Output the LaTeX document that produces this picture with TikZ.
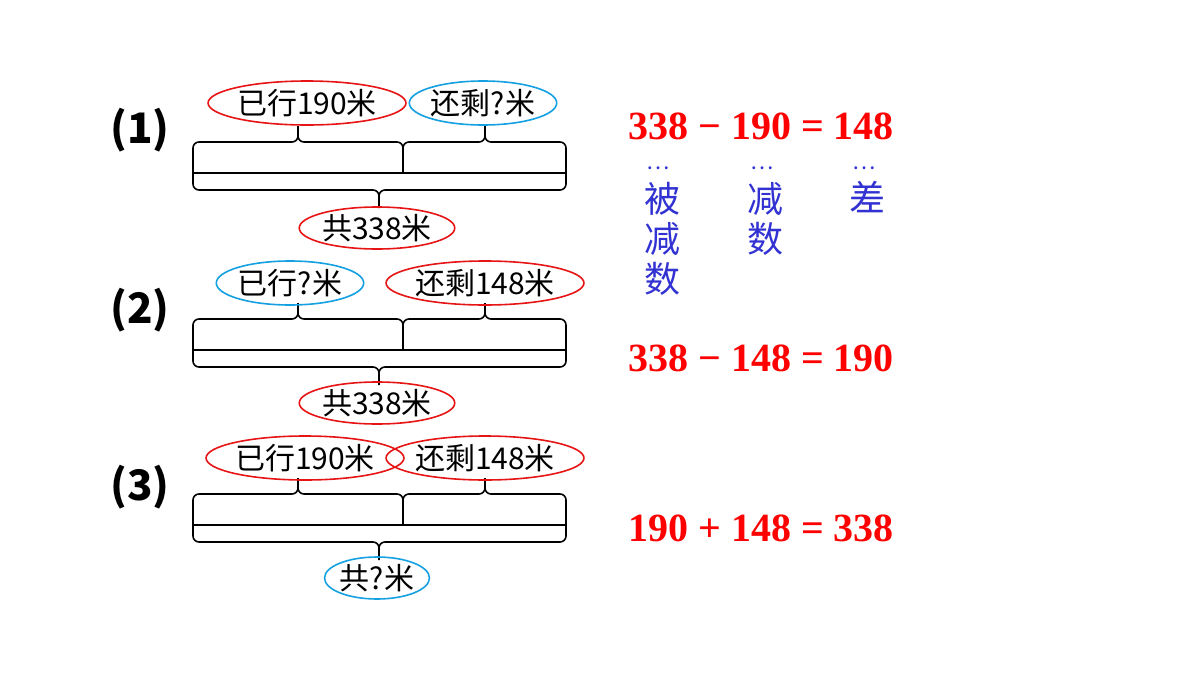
\documentclass[tikz,border=0pt]{standalone}
\usepackage{fontspec}
\setmainfont{Liberation Sans}
\newfontfamily\cjk{Noto Sans CJK SC}
\newfontfamily\tnr{Liberation Serif}
\usetikzlibrary{shapes.geometric}
\definecolor{ered}{RGB}{230,20,20}
\definecolor{eblue}{RGB}{20,160,225}
\definecolor{lblue}{RGB}{50,50,210}
\tikzset{
 x=0.5pt,y=-0.5pt,
 lab/.style={ellipse,draw,thick,inner sep=0pt,font=\cjk\fontsize{15}{15}\selectfont},
 rl/.style={lab,ered},
 bl/.style={lab,eblue},
 br/.style={line width=0.8pt,black},
 num/.style={font=\cjk\bfseries\fontsize{21}{21}\selectfont},
 eq/.style={font=\tnr\bfseries\fontsize{20}{20}\selectfont,text=red},
 bc/.style={font=\cjk\fontsize{18}{18}\selectfont,text=lblue,inner sep=0pt},
}
\begin{document}
\begin{tikzpicture}
\useasboundingbox (0,0) rectangle (1200,675);
\foreach \dy in {0,177,352}{
\begin{scope}[shift={(0,\dy)}]
 \draw[br] (193,173) -- (566,173);
 \draw[br] (193,173) -- (193,148) to[out=90,in=180] (199,142) -- (292,142) to[out=0,in=270] (298,136) -- (298,126);
 \draw[br] (298,136) to[out=270,in=180] (304,142) -- (397,142) to[out=0,in=90] (403,148) -- (403,173);
 \draw[br] (403,148) to[out=90,in=180] (409,142) -- (479,142) to[out=0,in=270] (485,136) -- (485,126);
 \draw[br] (485,136) to[out=270,in=180] (491,142) -- (560,142) to[out=0,in=90] (566,148) -- (566,173);
 \draw[br] (193,173) -- (193,184) to[out=270,in=180] (199,190) -- (373,190) to[out=0,in=90] (379,196) -- (379,208);
 \draw[br] (379,196) to[out=90,in=180] (385,190) -- (560,190) to[out=0,in=270] (566,184) -- (566,173);
\end{scope}}
\node[num] (n1) at (140,130) {(1)};
\node[num] (n2) at (140,310) {(2)};
\node[num] (n3) at (140,487) {(3)};
\node[rl,minimum width=72pt,minimum height=22pt] (a1) at (307,103) {\textcolor{black}{已行190米}};
\node[bl,minimum width=68pt,minimum height=22pt] (b1) at (483,103) {\textcolor{black}{还剩?米}};
\node[rl,minimum width=61pt,minimum height=21pt] (c1) at (377,228) {\textcolor{black}{共338米}};
\node[bl,minimum width=68pt,minimum height=22pt] (a2) at (290,283) {\textcolor{black}{已行?米}};
\node[rl,minimum width=72pt,minimum height=22pt] (b2) at (485,283) {\textcolor{black}{还剩148米}};
\node[rl,minimum width=61pt,minimum height=21pt] (c2) at (377,403) {\textcolor{black}{共338米}};
\node[rl,minimum width=75pt,minimum height=22pt] (a3) at (305,458) {\textcolor{black}{已行190米}};
\node[rl,minimum width=72pt,minimum height=22pt] (b3) at (485,458) {\textcolor{black}{还剩148米}};
\node[bl,minimum width=46pt,minimum height=21pt] (c3) at (377,578) {\textcolor{black}{共?米}};
\node[eq] (e1) at (761,126) {338 − 190 = 148};
\node[eq] (e2) at (761,358) {338 − 148 = 190};
\node[eq] (e3) at (761,528) {190 + 148 = 338};
\foreach \x in {658,762,864}{\node[text=lblue,font=\cjk\fontsize{11}{11}\selectfont] at (\x,168) {…};}
\node[bc] (w1) at (662,199) {被};
\node[bc] (w2) at (662,239) {减};
\node[bc] (w3) at (662,279) {数};
\node[bc] (w4) at (765,199) {减};
\node[bc] (w5) at (765,239) {数};
\node[bc] (w6) at (867,197) {差};
\end{tikzpicture}
\end{document}
